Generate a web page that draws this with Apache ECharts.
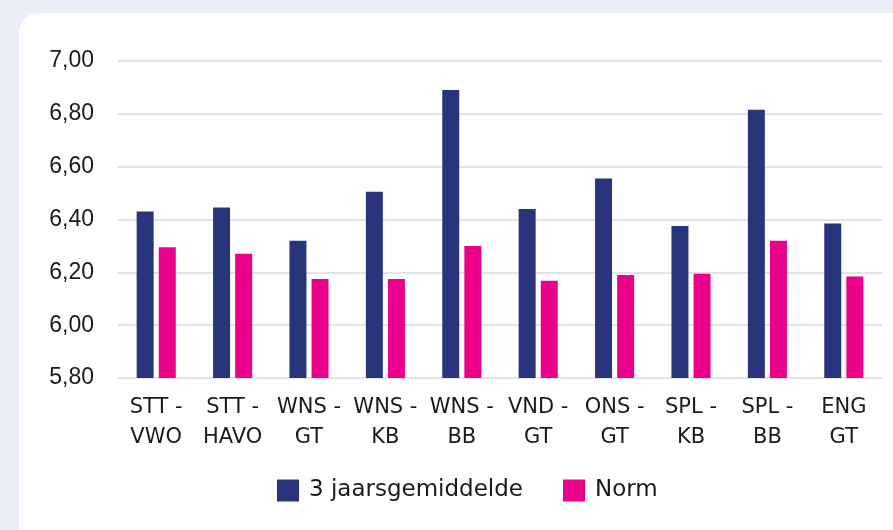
<!DOCTYPE html>
<html>
<head>
<meta charset="utf-8">
<script src="https://cdn.jsdelivr.net/npm/echarts@6/dist/echarts.min.js"></script>
<style>
  html, body { margin: 0; padding: 0; background: #eceef9; }
  #card { position: absolute; left: 19px; top: 13px; width: 920px; height: 560px; background: #fff; border-radius: 20px; }
  #chart { position: absolute; left: 0; top: 0; width: 893px; height: 530px; }
</style>
</head>
<body>
<div id="card"></div>
<div id="chart"></div>
<script>
// categories (two-line labels as in the source)
var categories = ['STT -\nVWO', 'STT -\nHAVO', 'WNS -\nGT', 'WNS -\nKB', 'WNS -\nBB',
                  'VND -\nGT', 'ONS -\nGT', 'SPL -\nKB', 'SPL -\nBB', 'ENG\nGT'];
var gemiddelde = [6.43, 6.445, 6.32, 6.505, 6.89, 6.44, 6.555, 6.375, 6.815, 6.385];
var norm = [6.295, 6.27, 6.175, 6.175, 6.30, 6.168, 6.19, 6.195, 6.32, 6.184];

var catFont = '"DejaVu Sans", sans-serif';
var numFont = '"Liberation Sans", Arial, sans-serif';

var myChart = echarts.init(document.getElementById('chart'));
myChart.setOption({
  backgroundColor: 'transparent',
  grid: { left: 118, right: 11, top: 61, bottom: 152, containLabel: false },
  legend: {
    bottom: 23,
    left: 272,
    itemWidth: 22,
    itemHeight: 22,
    itemGap: 40,
    icon: 'rect',
    textStyle: { fontSize: 23, color: '#1a1a1a', fontFamily: catFont, padding: [0, 0, 0, 5] },
    data: ['3 jaarsgemiddelde', 'Norm']
  },
  xAxis: {
    type: 'category',
    data: categories,
    axisLine: { show: false },
    axisTick: { show: false },
    axisLabel: { color: '#1a1a1a', fontSize: 21, fontFamily: catFont, lineHeight: 30, margin: 15, interval: 0 }
  },
  yAxis: {
    type: 'value',
    min: 5.8,
    max: 7.0,
    interval: 0.2,
    axisLine: { show: false },
    axisTick: { show: false },
    splitLine: { lineStyle: { color: '#dadada', width: 1.5 } },
    axisLabel: {
      color: '#1a1a1a', fontSize: 23, fontFamily: numFont, margin: 24,
      formatter: function (v) { return v.toFixed(2).replace('.', ','); }
    }
  },
  series: [
    {
      name: '3 jaarsgemiddelde', type: 'bar', data: gemiddelde,
      barWidth: 17, barGap: '30%',
      itemStyle: { color: '#28357b' }
    },
    {
      name: 'Norm', type: 'bar', data: norm,
      barWidth: 17,
      itemStyle: { color: '#eb008b' }
    }
  ]
});
</script>
</body>
</html>
